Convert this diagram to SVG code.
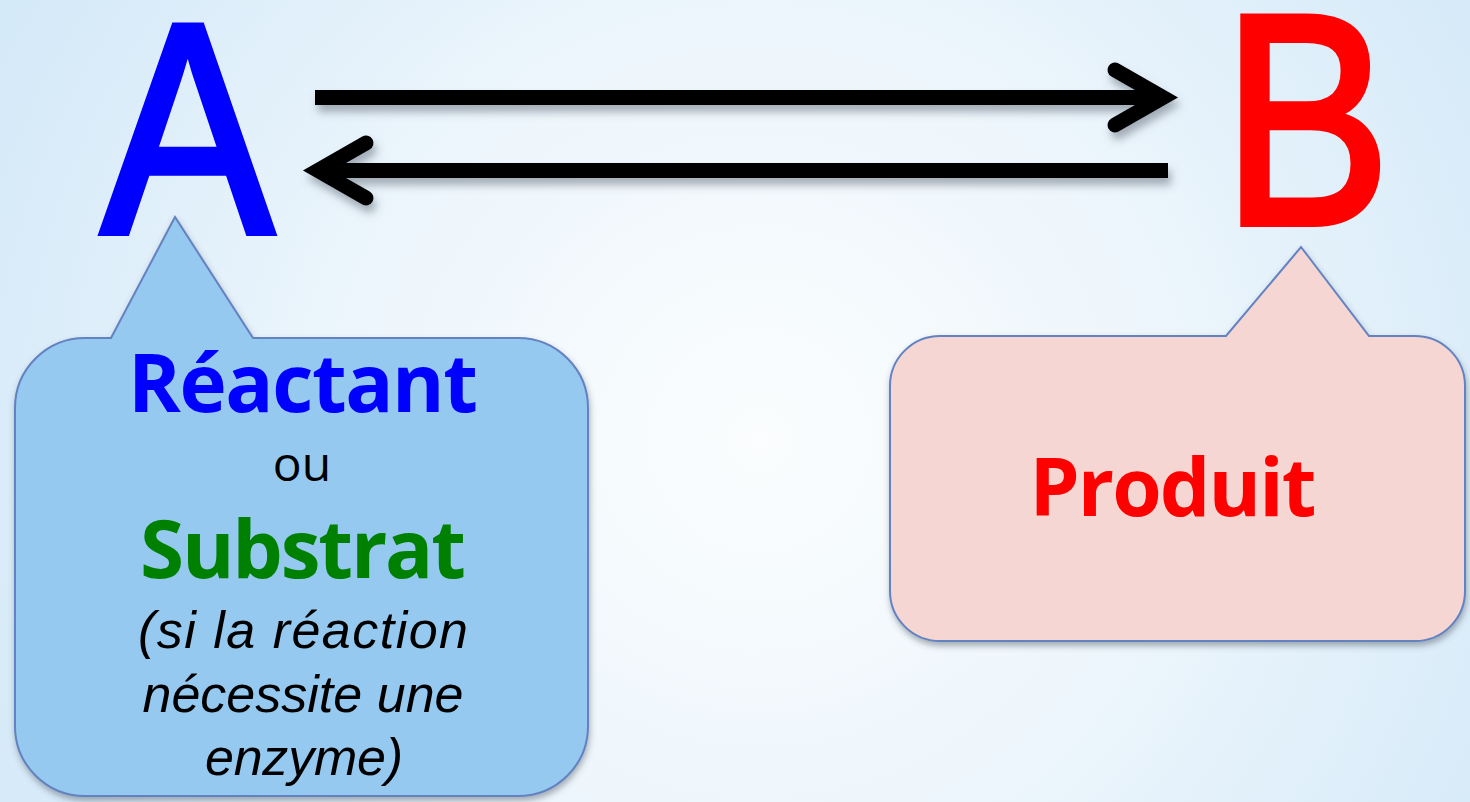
<svg xmlns="http://www.w3.org/2000/svg" width="1470" height="802" viewBox="0 0 1470 802">
  <defs>
    <radialGradient id="bg" cx="760" cy="440" r="900" gradientUnits="userSpaceOnUse">
      <stop offset="0" stop-color="#FBFDFE"/>
      <stop offset="0.45" stop-color="#EDF6FC"/>
      <stop offset="1" stop-color="#D2E8F8"/>
    </radialGradient>
    <filter id="arrowShadow" x="-10%" y="-50%" width="120%" height="200%">
      <feDropShadow dx="3" dy="7" stdDeviation="4" flood-color="#5A6470" flood-opacity="0.5"/>
    </filter>
    <filter id="boxShadow" x="-10%" y="-10%" width="120%" height="125%">
      <feDropShadow dx="1" dy="4" stdDeviation="3" flood-color="#44505C" flood-opacity="0.45"/>
    </filter>
  </defs>
  <style>
    .bubble { stroke: #6482C2; stroke-width: 2; }
    .shaft { fill: none; stroke: #000; stroke-width: 15; stroke-linecap: butt; }
    .head { fill: none; stroke: #000; stroke-width: 15; stroke-linecap: round; stroke-linejoin: miter; stroke-miterlimit: 6; }
    .big { font-family: "Liberation Sans", Arial, sans-serif; font-size: 300px; stroke-width: 7; stroke-linejoin: miter; }
    .lbl { font-family: "Open Sans", "Liberation Sans", sans-serif; font-weight: bold; font-size: 80px; text-anchor: middle; }
    .reg { font-family: "Open Sans", "Liberation Sans", sans-serif; font-size: 48px; text-anchor: middle; fill: #000; }
    .ital { font-family: "Liberation Sans", Arial, sans-serif; font-style: italic; font-size: 52px; text-anchor: middle; fill: #000; }
  </style>

  <rect x="0" y="0" width="1470" height="802" fill="url(#bg)"/>

  <g id="node-A">
    <text class="big" fill="#0000FF" stroke="#0000FF" transform="translate(101.4,232.5) scale(0.86,1)" x="0" y="0">A</text>
  </g>

  <g id="node-B">
    <text class="big" fill="#FF0000" stroke="#FF0000" transform="translate(1222.6,223.5) scale(0.839,1)" x="0" y="0">B</text>
  </g>

  <g id="connectors" filter="url(#arrowShadow)">
    <line class="shaft" x1="315" y1="97.5" x2="1163" y2="97.5"/>
    <polyline class="head" points="1115,70 1163,97.5 1115,125"/>
    <line class="shaft" x1="1168" y1="170.5" x2="318" y2="170.5"/>
    <polyline class="head" points="366,143 318,170.5 366,198"/>
  </g>

  <g id="callout-reactant">
    <path class="bubble" fill="#95C9EF" filter="url(#boxShadow)" d="M 85 338 L 111 338 L 175 217 L 253 338 L 518 338 A 70 70 0 0 1 588 408 L 588 726 A 70 70 0 0 1 518 796 L 85 796 A 70 70 0 0 1 15 726 L 15 408 A 70 70 0 0 1 85 338 Z"/>
    <text class="lbl" fill="#0000FF" x="303" y="412" textLength="350">Réactant</text>
    <text class="reg" x="302" y="481">ou</text>
    <text class="lbl" fill="#008000" x="303" y="578" textLength="326">Substrat</text>
    <text class="ital" x="303" y="648" textLength="330">(si la réaction</text>
    <text class="ital" x="303" y="712" textLength="321">nécessite une</text>
    <text class="ital" x="304" y="775" textLength="198">enzyme)</text>
  </g>

  <g id="callout-produit">
    <path class="bubble" fill="#F5D6D2" filter="url(#boxShadow)" d="M 940 336 L 1226 336 L 1301 247 L 1369 336 L 1415 336 A 50 50 0 0 1 1465 386 L 1465 591 A 50 50 0 0 1 1415 641 L 940 641 A 50 50 0 0 1 890 591 L 890 386 A 50 50 0 0 1 940 336 Z"/>
    <text class="lbl" fill="#FF0000" x="1173" y="516" textLength="287">Produit</text>
  </g>
</svg>
